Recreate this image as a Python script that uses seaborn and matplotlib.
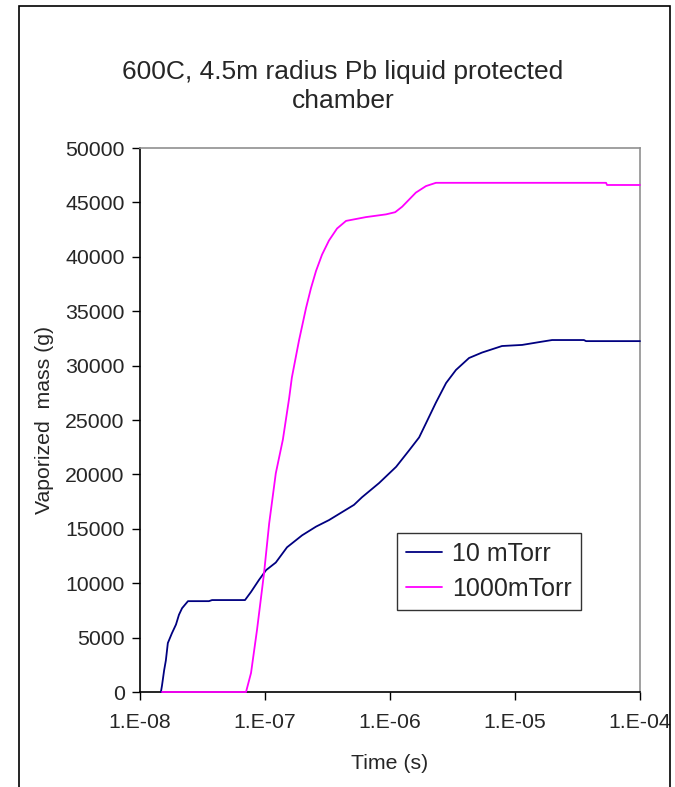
import pandas as pd
import numpy as np
import matplotlib
matplotlib.use("Agg")
import matplotlib.pyplot as plt
from matplotlib.patches import Rectangle
import seaborn as sns

# values
t_10 = [1.47e-8, 1.5e-8, 1.56e-8, 1.61e-8, 1.67e-8, 1.80e-8, 1.94e-8, 2.05e-8, 2.17e-8,
        2.42e-8, 3.56e-8, 3.77e-8, 6.92e-8, 7.73e-8, 8.95e-8, 1.02e-7, 1.22e-7, 1.50e-7,
        1.98e-7, 2.56e-7, 3.25e-7, 5.15e-7, 5.97e-7, 8.17e-7, 1.12e-6, 1.42e-6, 1.71e-6,
        1.94e-6, 2.33e-6, 2.81e-6, 3.37e-6, 4.29e-6, 5.45e-6, 7.87e-6, 1.14e-5, 1.64e-5,
        1.98e-5, 3.56e-5, 3.7e-5, 1.0e-4]
m_10 = [0, 600, 2000, 2900, 4500, 5400, 6200, 7100, 7700,
        8350, 8350, 8450, 8450, 9200, 10300, 11200, 11900, 13300,
        14400, 15200, 15800, 17200, 17900, 19200, 20700, 22200, 23400,
        24700, 26600, 28400, 29600, 30700, 31200, 31800, 31900, 32200,
        32350, 32350, 32250, 32250]

t_1000 = [1.5e-8, 7.05e-8, 7.73e-8, 8.63e-8, 9.82e-8, 1.08e-7, 1.22e-7, 1.39e-7, 1.56e-7,
          1.64e-7, 1.87e-7, 2.13e-7, 2.33e-7, 2.56e-7, 2.86e-7, 3.25e-7, 3.77e-7, 4.45e-7,
          6.43e-7, 9.29e-7, 1.1e-6, 1.25e-6, 1.61e-6, 1.94e-6, 2.33e-6, 5.35e-5, 5.45e-5, 1.0e-4]
m_1000 = [0, 0, 1750, 5700, 10900, 15500, 20100, 23200, 27000,
          28900, 32300, 35300, 37100, 38700, 40200, 41500, 42600, 43300,
          43650, 43900, 44100, 44600, 45900, 46500, 46800, 46800, 46600, 46600]

series = ["10 mTorr", "1000mTorr"]
colors = ["#000080", "#FF00FF"]
xticks = [1e-8, 1e-7, 1e-6, 1e-5, 1e-4]
xticklabels = ["1.E-08", "1.E-07", "1.E-06", "1.E-05", "1.E-04"]
yticks = list(range(0, 50001, 5000))

df = pd.concat([
    pd.DataFrame({"Time": t_10, "Mass": m_10, "Run": series[0]}),
    pd.DataFrame({"Time": t_1000, "Mass": m_1000, "Run": series[1]}),
])

sns.set_style("white")
plt.rcParams["font.family"] = ["Liberation Sans", "DejaVu Sans"]

fig = plt.figure(figsize=(6.75, 7.87), dpi=100)
ax = fig.add_axes([140 / 675, 1 - 692 / 787, 500 / 675, 544 / 787])

sns.lineplot(data=df, x="Time", y="Mass", hue="Run", palette=colors,
             estimator=None, sort=False, linewidth=1.3, ax=ax)
for ln in ax.lines:
    ln.set_clip_on(False)
    ln.set_zorder(5)

ax.set_xscale("log")
ax.set_xlim(1e-8, 1e-4)
ax.set_ylim(0, 50000)
ax.set_xticks(xticks)
ax.set_xticklabels(xticklabels)
ax.xaxis.set_minor_locator(matplotlib.ticker.NullLocator())
ax.set_yticks(yticks)
ax.set_yticklabels([str(v) for v in yticks])
ax.tick_params(axis="both", direction="out", length=6, width=1, color="black",
               labelsize=15.3, pad=5, bottom=True, left=True)
ax.tick_params(axis="x", pad=9)

for side in ["left", "bottom"]:
    ax.spines[side].set_color("black")
    ax.spines[side].set_linewidth(1.2)
for side in ["top", "right"]:
    ax.spines[side].set_color("#909090")
    ax.spines[side].set_linewidth(1.2)

ax.set_xlabel("Time (s)", fontsize=15.3, labelpad=16)
ax.set_ylabel("Vaporized  mass (g)", fontsize=15.3, labelpad=8)

leg = ax.legend(loc="upper left", bbox_to_anchor=((397 - 140) / 500, (692 - 533) / 544),
                fontsize=18, frameon=True, fancybox=False, edgecolor="black",
                handlelength=1.45, borderpad=0.35, labelspacing=0.45, handletextpad=0.4,
                borderaxespad=0)
leg.get_frame().set_linewidth(1.0)

fig.text(343 / 675, 1 - 72 / 787, "600C, 4.5m radius Pb liquid protected",
         ha="center", va="center", fontsize=19)
fig.text(343 / 675, 1 - 101 / 787, "chamber", ha="center", va="center", fontsize=19)

# outer chart border
fig.patches.append(Rectangle((19 / 675, -0.05), (670 - 19) / 675, 1.05 - 6 / 787,
                             transform=fig.transFigure, fill=False,
                             edgecolor="black", linewidth=1.2))

fig.savefig("out.png", dpi=100)
